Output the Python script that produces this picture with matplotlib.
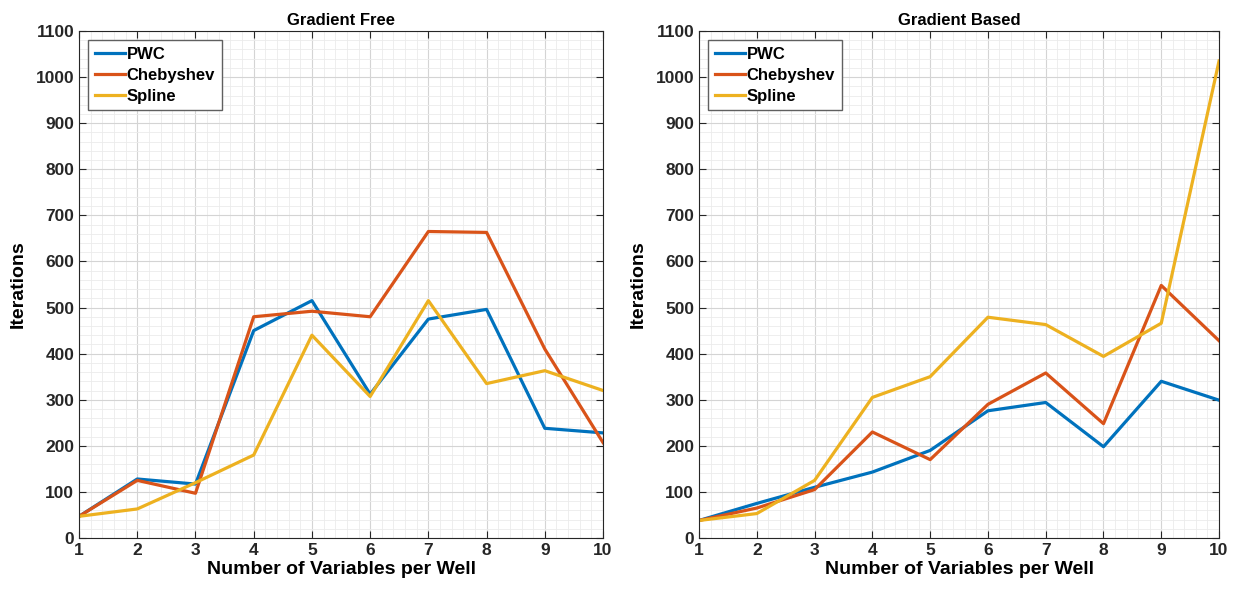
import numpy as np
import matplotlib.pyplot as plt
from matplotlib.ticker import MultipleLocator

plt.rcParams['font.family'] = ['Liberation Sans', 'DejaVu Sans']
plt.rcParams['font.weight'] = 'bold'

variables = [1, 2, 3, 4, 5, 6, 7, 8, 9, 10]
series_names = ['PWC', 'Chebyshev', 'Spline']

free_pwc = [47, 128, 117, 450, 515, 312, 475, 496, 238, 228]
free_cheb = [47, 125, 97, 480, 492, 480, 665, 663, 410, 207]
free_spline = [47, 63, 120, 180, 440, 307, 515, 335, 363, 320]

based_pwc = [38, 75, 110, 143, 190, 276, 294, 198, 340, 299]
based_cheb = [38, 65, 105, 230, 170, 290, 358, 248, 548, 428]
based_spline = [38, 53, 125, 305, 350, 479, 463, 394, 466, 1035]

colors = ['#0072BD', '#D95319', '#EDB120']

fig = plt.figure(figsize=(12.39, 5.94), dpi=100)
ax1 = fig.add_axes([0.0638, 0.0943, 0.4229, 0.8535])
ax2 = fig.add_axes([0.5642, 0.0943, 0.4197, 0.8535])


def draw(ax, data, title):
    for vals, name, c in zip(data, series_names, colors):
        ax.plot(variables, vals, color=c, linewidth=2.3, label=name)
    ax.set_xlim(1, 10)
    ax.set_ylim(0, 1100)
    ax.xaxis.set_major_locator(MultipleLocator(1))
    ax.yaxis.set_major_locator(MultipleLocator(100))
    ax.xaxis.set_minor_locator(MultipleLocator(0.2))
    ax.yaxis.set_minor_locator(MultipleLocator(20))
    ax.grid(True, which='major', color='#d4d4d4', linewidth=0.8)
    ax.grid(True, which='minor', color='#ebebeb', linewidth=0.6)
    ax.set_axisbelow(True)
    ax.tick_params(which='both', direction='in', top=True, right=True,
                   labelsize=12.5, colors='#262626', length=5)
    ax.tick_params(which='minor', length=0)
    for lbl in ax.get_xticklabels() + ax.get_yticklabels():
        lbl.set_fontweight('bold')
    for s in ax.spines.values():
        s.set_color('#262626')
        s.set_linewidth(0.8)
    ax.set_title(title, fontsize=12, fontweight='bold', pad=4)
    ax.set_xlabel('Number of Variables per Well', fontsize=14, fontweight='bold', labelpad=2)
    ax.set_ylabel('Iterations', fontsize=14, fontweight='bold', labelpad=6)
    leg = ax.legend(loc='upper left', fontsize=12, handlelength=1.8, handletextpad=0.1,
                    borderaxespad=0.55, labelspacing=0.35, fancybox=False,
                    framealpha=1, edgecolor='#606060', borderpad=0.4)
    leg.get_frame().set_linewidth(1.0)


draw(ax1, [free_pwc, free_cheb, free_spline], 'Gradient Free')
draw(ax2, [based_pwc, based_cheb, based_spline], 'Gradient Based')

fig.savefig('out.png', dpi=100)
